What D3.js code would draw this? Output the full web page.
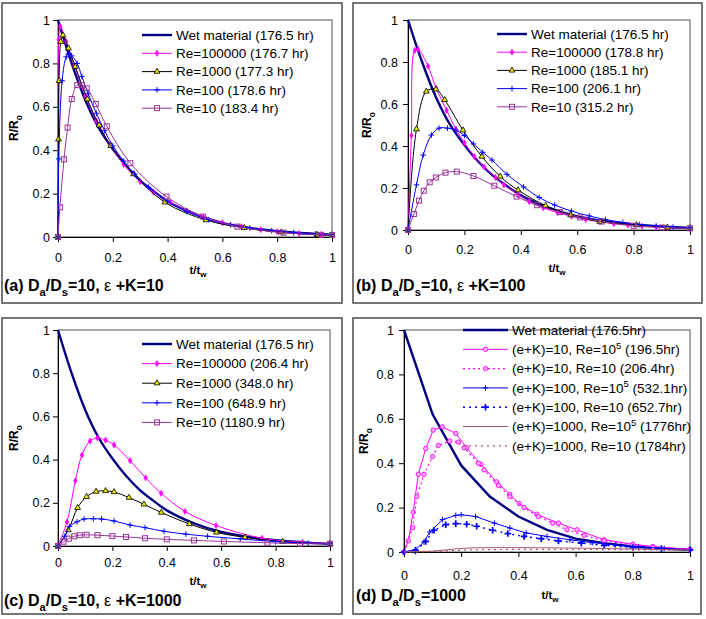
<!DOCTYPE html>
<html>
<head>
<meta charset="utf-8">
<script src="https://cdn.jsdelivr.net/npm/d3@7"></script>
<style>
  body { margin: 0; background: #fff; }
  svg { display: block; }
  text { font-family: "Liberation Sans", Arial, sans-serif; fill: #000; }
</style>
</head>
<body>
<svg id="chart" width="706" height="619"></svg>
<script>
// ---- data ----
const tickValues = [0, 0.2, 0.4, 0.6, 0.8, 1];
const tickLabels = ['0', '0.2', '0.4', '0.6', '0.8', '1'];

// wet material reference curve (same in all panels)
const wetFine = [[0,1],[0.05,0.8],[0.1,0.63],[0.15,0.5],[0.2,0.405],[0.25,0.325],[0.3,0.26],[0.35,0.21],[0.4,0.165],[0.5,0.105],[0.6,0.065],[0.7,0.042],[0.8,0.027],[0.9,0.017],[1,0.01]];
const wetCoarse = [[0,1],[0.1,0.62],[0.2,0.39],[0.3,0.25],[0.4,0.16],[0.5,0.1],[0.6,0.06],[0.7,0.04],[0.8,0.025],[0.9,0.015],[1,0.01]];

// (a) Da/Ds=10, e+K=10
const aRe100000 = [[0,0],[0.003,0.91],[0.008,0.97],[0.03,0.9],[0.06,0.79],[0.1,0.65],[0.14,0.535],[0.19,0.425],[0.24,0.335],[0.3,0.255],[0.35,0.205],[0.41,0.16],[0.47,0.12],[0.53,0.092],[0.6,0.066],[0.67,0.047],[0.74,0.034],[0.8,0.025],[0.88,0.016],[0.96,0.011],[1,0.009]];
const aRe1000 = [[0,0],[0.002,0.45],[0.004,0.72],[0.01,0.9],[0.018,0.93],[0.038,0.87],[0.063,0.785],[0.107,0.635],[0.15,0.515],[0.193,0.42],[0.276,0.29],[0.39,0.16],[0.54,0.078],[0.68,0.042],[0.815,0.022],[0.945,0.011],[1,0.009]];
const aRe100 = [[0,0],[0.003,0.36],[0.015,0.72],[0.03,0.83],[0.04,0.845],[0.05,0.835],[0.07,0.8],[0.087,0.74],[0.11,0.66],[0.14,0.57],[0.17,0.49],[0.2,0.42],[0.24,0.35],[0.28,0.29],[0.33,0.23],[0.4,0.165],[0.47,0.118],[0.55,0.08],[0.63,0.056],[0.7,0.041],[0.78,0.029],[0.86,0.02],[0.94,0.013],[1,0.01]];
const aRe10 = [[0,0],[0.007,0.137],[0.022,0.358],[0.035,0.504],[0.05,0.636],[0.07,0.7],[0.087,0.7],[0.105,0.685],[0.138,0.613],[0.178,0.51],[0.264,0.34],[0.396,0.186],[0.529,0.094],[0.655,0.048],[0.823,0.02],[0.96,0.01],[1,0.009]];
const aLabels = ['Wet material (176.5 hr)', 'Re=100000 (176.7 hr)', 'Re=1000 (177.3 hr)', 'Re=100 (178.6 hr)', 'Re=10 (183.4 hr)'];

// (b) Da/Ds=10, e+K=100
const bRe100000 = [[0,0],[0.012,0.45],[0.024,0.855],[0.036,0.86],[0.071,0.78],[0.1,0.675],[0.137,0.57],[0.17,0.48],[0.2,0.415],[0.235,0.35],[0.27,0.3],[0.31,0.25],[0.34,0.215],[0.39,0.17],[0.43,0.135],[0.48,0.105],[0.53,0.083],[0.58,0.065],[0.63,0.05],[0.68,0.04],[0.73,0.03],[0.78,0.024],[0.83,0.018],[0.88,0.014],[0.92,0.011],[1,0.008]];
const bRe1000 = [[0,0],[0.03,0.48],[0.065,0.66],[0.099,0.67],[0.13,0.62],[0.195,0.475],[0.262,0.35],[0.327,0.255],[0.39,0.19],[0.488,0.116],[0.577,0.071],[0.68,0.04],[0.81,0.024],[0.92,0.012],[1,0.009]];
const bRe100 = [[0,0],[0.03,0.215],[0.054,0.357],[0.083,0.452],[0.11,0.485],[0.14,0.485],[0.17,0.475],[0.2,0.45],[0.232,0.41],[0.265,0.37],[0.298,0.333],[0.351,0.265],[0.41,0.205],[0.465,0.155],[0.52,0.119],[0.58,0.09],[0.643,0.067],[0.7,0.05],[0.762,0.036],[0.82,0.026],[0.88,0.019],[0.94,0.014],[1,0.01]];
const bRe10 = [[0,0],[0.021,0.076],[0.039,0.14],[0.056,0.187],[0.077,0.227],[0.099,0.25],[0.133,0.273],[0.173,0.278],[0.232,0.257],[0.306,0.211],[0.385,0.159],[0.458,0.118],[0.539,0.085],[0.61,0.06],[0.687,0.04],[0.8,0.02],[0.9,0.012],[1,0.008]];
const bLabels = ['Wet material (176.5 hr)', 'Re=100000 (178.8 hr)', 'Re=1000 (185.1 hr)', 'Re=100 (206.1 hr)', 'Re=10 (315.2 hr)'];

// (c) Da/Ds=10, e+K=1000
const cRe100000 = [[0,0],[0.033,0.111],[0.064,0.302],[0.088,0.421],[0.118,0.486],[0.145,0.5],[0.175,0.49],[0.206,0.468],[0.265,0.395],[0.322,0.316],[0.379,0.244],[0.467,0.16],[0.581,0.095],[0.75,0.036],[0.9,0.017],[1,0.012]];
const cRe1000 = [[0,0],[0.038,0.074],[0.072,0.177],[0.105,0.228],[0.14,0.252],[0.175,0.255],[0.206,0.25],[0.261,0.224],[0.316,0.193],[0.38,0.155],[0.483,0.102],[0.583,0.063],[0.687,0.04],[0.826,0.02],[1,0.01]];
const cRe100 = [[0,0],[0.025,0.045],[0.042,0.09],[0.07,0.112],[0.096,0.125],[0.13,0.126],[0.16,0.125],[0.206,0.116],[0.265,0.097],[0.32,0.085],[0.39,0.068],[0.47,0.055],[0.55,0.045],[0.67,0.033],[0.8,0.02],[0.92,0.013],[1,0.01]];
const cRe10 = [[0,0],[0.02,0.02],[0.04,0.034],[0.06,0.045],[0.08,0.05],[0.105,0.052],[0.145,0.05],[0.2,0.046],[0.25,0.042],[0.32,0.036],[0.4,0.031],[0.5,0.026],[0.61,0.021],[0.77,0.015],[0.89,0.011],[1,0.01]];
const cLabels = ['Wet material (176.5 hr)', 'Re=100000 (206.4 hr)', 'Re=1000 (348.0 hr)', 'Re=100 (648.9 hr)', 'Re=10 (1180.9 hr)'];

// (d) Da/Ds=1000
const dK10Re5 = [[0,0],[0.015,0.05],[0.032,0.179],[0.05,0.35],[0.076,0.466],[0.102,0.549],[0.134,0.564],[0.181,0.534],[0.219,0.47],[0.269,0.395],[0.324,0.316],[0.37,0.26],[0.403,0.218],[0.464,0.17],[0.54,0.13],[0.605,0.1],[0.7,0.055],[0.8,0.035],[0.87,0.025],[1,0.012]];
const dK10Re1 = [[0,0],[0.03,0.11],[0.045,0.25],[0.07,0.35],[0.1,0.43],[0.12,0.48],[0.16,0.5],[0.19,0.495],[0.21,0.47],[0.26,0.4],[0.28,0.37],[0.33,0.3],[0.37,0.25],[0.42,0.2],[0.47,0.16],[0.52,0.13],[0.57,0.1],[0.63,0.075],[0.7,0.05],[0.8,0.033],[0.87,0.02],[1,0.012]];
const dK100Re5 = [[0,0],[0.041,0.012],[0.07,0.045],[0.09,0.09],[0.135,0.146],[0.181,0.165],[0.2,0.168],[0.25,0.16],[0.316,0.13],[0.37,0.108],[0.427,0.086],[0.5,0.07],[0.58,0.055],[0.66,0.042],[0.74,0.032],[0.82,0.024],[0.91,0.016],[1,0.01]];
const dK100Re1 = [[0,0],[0.04,0.005],[0.076,0.048],[0.105,0.098],[0.146,0.123],[0.181,0.128],[0.219,0.125],[0.254,0.116],[0.31,0.098],[0.363,0.083],[0.42,0.07],[0.48,0.06],[0.54,0.05],[0.62,0.04],[0.7,0.03],[0.8,0.02],[0.9,0.015],[1,0.01]];
const dK1000Re5 = [[0,0],[0.1,0.004],[0.15,0.01],[0.2,0.016],[0.25,0.019],[0.35,0.02],[0.5,0.019],[0.7,0.016],[0.85,0.012],[1,0.009]];
const dK1000Re1 = [[0,0],[0.1,0.002],[0.2,0.008],[0.3,0.011],[0.45,0.012],[0.6,0.012],[0.8,0.01],[1,0.008]];
const dLabels = [
  [{t: 'Wet material (176.5hr)'}],
  [{t: '(e+K)=10, Re=10'}, {t: '5', sup: true}, {t: ' (196.5hr)'}],
  [{t: '(e+K)=10, Re=10 (206.4hr)'}],
  [{t: '(e+K)=100, Re=10'}, {t: '5', sup: true}, {t: ' (532.1hr)'}],
  [{t: '(e+K)=100, Re=10 (652.7hr)'}],
  [{t: '(e+K)=1000, Re=10'}, {t: '5', sup: true}, {t: ' (1776hr)'}],
  [{t: '(e+K)=1000, Re=10 (1784hr)'}]
];

// ---- styles ----
const NAVY = '#000080', PINK = '#ff00ff', BLUE = '#0000ff', PURPLE = '#993399', BROWN = '#a8586c';
const wetStyle = {color: NAVY, width: 2.4, marker: null};
const re5Style = {color: PINK, width: 1, marker: 'diamond'};
const re3Style = {color: '#000', width: 1, marker: 'triangle'};
const re2Style = {color: BLUE, width: 1, marker: 'plus'};
const re1Style = {color: PURPLE, width: 1, marker: 'square'};

const panels = [
  {
    box: [2, 3, 342, 303], xr: [58, 332], yr: [237, 20], xPad: 11, yPad: 3,
    smooth: true,
    series: [[wetFine, wetStyle], [aRe100000, re5Style], [aRe1000, re3Style], [aRe100, re2Style], [aRe10, re1Style]],
    labels: aLabels.map(t => [{t}]), leg: {x: 142, len: 30, y: 35, step: 18.3},
    caption: {x: 4, y: 291, parts: [{t: '(a) D'}, {t: 'a', sub: true}, {t: '/D'}, {t: 's', sub: true}, {t: '=10, '}, {t: 'ε', normal: true}, {t: ' +K=10'}]},
    xTitle: {x: 198, y: 274}, yTitle: {x: 18, y: 128}
  },
  {
    box: [353, 3, 702, 303], xr: [408, 690], yr: [230, 20], xPad: 10, yPad: 5,
    smooth: true,
    series: [[wetFine, wetStyle], [bRe100000, re5Style], [bRe1000, re3Style], [bRe100, re2Style], [bRe10, re1Style]],
    labels: bLabels.map(t => [{t}]), leg: {x: 497, len: 30, y: 34, step: 18.2},
    caption: {x: 356, y: 291, parts: [{t: '(b) D'}, {t: 'a', sub: true}, {t: '/D'}, {t: 's', sub: true}, {t: '=10, '}, {t: 'ε', normal: true}, {t: ' +K=100'}]},
    xTitle: {x: 557, y: 272}, yTitle: {x: 371, y: 125}
  },
  {
    box: [2, 318, 342, 614], xr: [58, 330], yr: [546, 330], xPad: 7, yPad: 3,
    smooth: true,
    series: [[wetFine, wetStyle], [cRe100000, re5Style], [cRe1000, re3Style], [cRe100, re2Style], [cRe10, re1Style]],
    labels: cLabels.map(t => [{t}]), leg: {x: 142, len: 30, y: 344, step: 19.6},
    caption: {x: 4, y: 606, parts: [{t: '(c) D'}, {t: 'a', sub: true}, {t: '/D'}, {t: 's', sub: true}, {t: '=10, '}, {t: 'ε', normal: true}, {t: ' +K=1000'}]},
    xTitle: {x: 198, y: 585}, yTitle: {x: 18, y: 438}
  },
  {
    box: [353, 318, 701, 614], xr: [404, 690], yr: [552, 330], xPad: 14, yPad: 5,
    smooth: false,
    series: [
      [wetCoarse, wetStyle],
      [dK10Re5, {color: PINK, width: 1, marker: 'circle'}],
      [dK10Re1, {color: PINK, width: 1.2, marker: 'circle', dash: '2,3'}],
      [dK100Re5, {color: BLUE, width: 1, marker: 'plus'}],
      [dK100Re1, {color: BLUE, width: 1.4, marker: 'plusBig', dash: '2,4'}],
      [dK1000Re5, {color: BROWN, width: 1, marker: null}],
      [dK1000Re1, {color: BROWN, width: 1.2, marker: null, dash: '2,4'}]
    ],
    labels: dLabels, leg: {x: 463, len: 45, y: 330, step: 19.3},
    caption: {x: 356, y: 601, parts: [{t: '(d) D'}, {t: 'a', sub: true}, {t: '/D'}, {t: 's', sub: true}, {t: '=1000'}]},
    xTitle: {x: 550, y: 599}, yTitle: {x: 368, y: 441}
  }
];

// ---- drawing ----
const svg = d3.select('#chart');

function richText(sel, parts, size) {
  let shift = 0;
  parts.forEach(p => {
    const ts = sel.append('tspan').text(p.t);
    let target = 0;
    if (p.sub) target = size * 0.3;
    if (p.sup) target = -size * 0.4;
    if (p.sub || p.sup) ts.attr('font-size', size * 0.7);
    if (p.normal) ts.attr('font-weight', 'normal');
    if (target !== shift) { ts.attr('dy', target - shift); shift = target; }
  });
}

function drawMarker(g, kind, cx, cy, color) {
  if (!kind) return;
  if (kind === 'diamond') {
    g.append('path').attr('d', d3.symbol(d3.symbolDiamond, 11)())
      .attr('transform', `translate(${cx},${cy})`).attr('fill', color).attr('stroke', color).attr('stroke-width', 0.6);
  } else if (kind === 'triangle') {
    g.append('path').attr('d', d3.symbol(d3.symbolTriangle, 15)())
      .attr('transform', `translate(${cx},${cy})`).attr('fill', '#e8e800').attr('stroke', '#000').attr('stroke-width', 0.8);
  } else if (kind === 'plus' || kind === 'plusBig') {
    const r = kind === 'plus' ? 2.8 : 3.3;
    g.append('path').attr('d', `M${cx - r},${cy}H${cx + r}M${cx},${cy - r}V${cy + r}`)
      .attr('stroke', color).attr('stroke-width', kind === 'plus' ? 1 : 1.7).attr('fill', 'none');
  } else if (kind === 'square') {
    g.append('rect').attr('x', cx - 2.5).attr('y', cy - 2.5).attr('width', 5).attr('height', 5)
      .attr('fill', 'none').attr('stroke', color).attr('stroke-width', 1);
  } else if (kind === 'circle') {
    g.append('circle').attr('cx', cx).attr('cy', cy).attr('r', 2.2)
      .attr('fill', '#ffb0ff').attr('stroke', color).attr('stroke-width', 0.9);
  }
}

panels.forEach(p => {
  const g = svg.append('g');
  g.append('rect')
    .attr('x', p.box[0]).attr('y', p.box[1])
    .attr('width', p.box[2] - p.box[0]).attr('height', p.box[3] - p.box[1])
    .attr('fill', 'none').attr('stroke', '#555').attr('stroke-width', 1.6);

  const x = d3.scaleLinear().domain([0, 1]).range(p.xr);
  const y = d3.scaleLinear().domain([0, 1]).range(p.yr);

  // plot area frame
  g.append('rect')
    .attr('x', p.xr[0]).attr('y', p.yr[1])
    .attr('width', p.xr[1] - p.xr[0]).attr('height', p.yr[0] - p.yr[1])
    .attr('fill', 'none').attr('stroke', '#707070').attr('stroke-width', 1.2);

  const xAxis = g.append('g').attr('transform', `translate(0,${p.yr[0]})`)
    .call(d3.axisBottom(x).tickValues(tickValues).tickFormat((d, i) => tickLabels[i])
      .tickSize(5).tickSizeOuter(0).tickPadding(p.xPad));
  const yAxis = g.append('g').attr('transform', `translate(${p.xr[0]},0)`)
    .call(d3.axisLeft(y).tickValues(tickValues).tickFormat((d, i) => tickLabels[i])
      .tickSize(5).tickSizeOuter(0).tickPadding(p.yPad));
  [xAxis, yAxis].forEach(a => {
    a.selectAll('text').attr('font-size', 12.5).attr('font-family', '"Liberation Sans", Arial, sans-serif');
    a.select('.domain').attr('stroke', '#000');
    a.selectAll('.tick line').attr('stroke', '#000');
  });

  const line = d3.line().x(d => x(d[0])).y(d => y(d[1]))
    .curve(p.smooth ? d3.curveCatmullRom.alpha(0.5) : d3.curveLinear);

  p.series.forEach(([data, st]) => {
    g.append('path').attr('d', line(data)).attr('fill', 'none')
      .attr('stroke', st.color).attr('stroke-width', st.width)
      .attr('stroke-dasharray', st.dash || null);
    if (st.marker) {
      const mg = g.append('g');
      data.forEach(d => drawMarker(mg, st.marker, x(d[0]), y(d[1]), st.color));
    }
  });

  // legend
  p.labels.forEach((parts, i) => {
    const st = p.series[i][1];
    const ly = p.leg.y + i * p.leg.step;
    g.append('line').attr('x1', p.leg.x).attr('x2', p.leg.x + p.leg.len)
      .attr('y1', ly).attr('y2', ly).attr('stroke', st.color).attr('stroke-width', st.width)
      .attr('stroke-dasharray', st.dash || null);
    drawMarker(g, st.marker, p.leg.x + p.leg.len / 2, ly, st.color);
    const t = g.append('text').attr('x', p.leg.x + p.leg.len + 4).attr('y', ly + 4.8).attr('font-size', 13.5);
    richText(t, parts, 13.5);
  });

  // axis titles
  const xt = g.append('text').attr('x', p.xTitle.x).attr('y', p.xTitle.y)
    .attr('text-anchor', 'middle').attr('font-size', 11.5).attr('font-weight', 'bold');
  richText(xt, [{t: 't/t'}, {t: 'w', sub: true}], 11.5);
  const yt = g.append('text').attr('transform', `translate(${p.yTitle.x},${p.yTitle.y}) rotate(-90)`)
    .attr('text-anchor', 'middle').attr('font-size', 12).attr('font-weight', 'bold');
  richText(yt, [{t: 'R/R'}, {t: 'o', sub: true}], 12);

  // panel caption
  const cap = g.append('text').attr('x', p.caption.x).attr('y', p.caption.y)
    .attr('font-size', 16).attr('font-weight', 'bold');
  richText(cap, p.caption.parts, 16);
});
</script>
</body>
</html>
